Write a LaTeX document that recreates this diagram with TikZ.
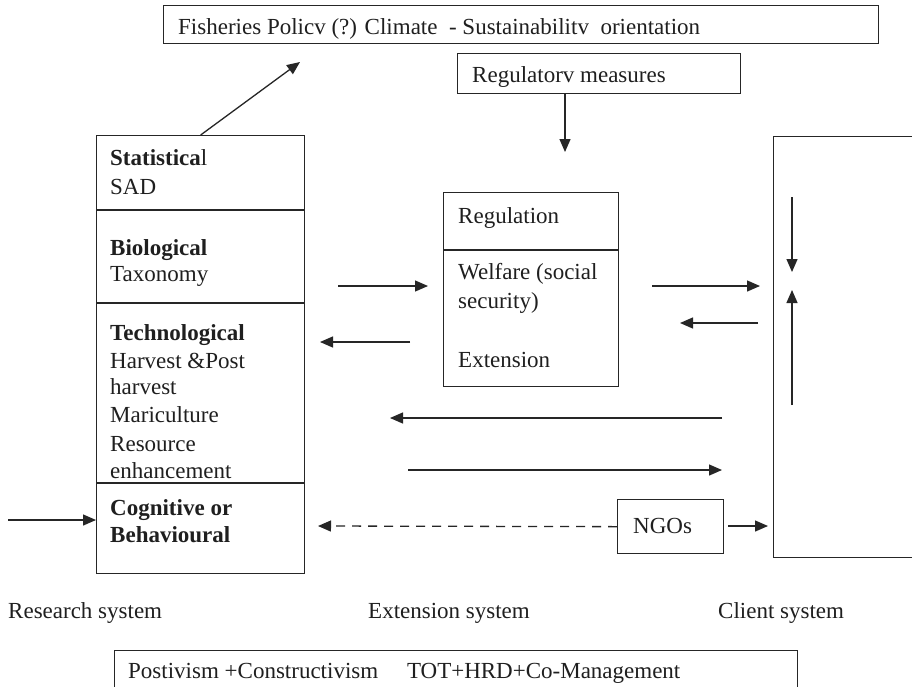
\documentclass[tikz,border=0pt]{standalone}
\usepackage{fontspec}
\setmainfont{Liberation Serif}
\usetikzlibrary{arrows.meta}
\begin{document}
\begin{tikzpicture}[x=1pt,y=-1pt,
  box/.style={draw=black!85,line width=1.3pt,rectangle,inner sep=0pt,anchor=north west},
  rule/.style={draw=black!85,line width=1.3pt},
  txt/.style={anchor=base west,inner sep=0pt,font=\fontsize{23}{28}\selectfont,text=black!88},
  arr/.style={draw=black!85,line width=1.3pt,-{Triangle[length=13pt,width=11pt]}},
  dasharr/.style={arr,dash pattern=on 9pt off 7pt},
]
\useasboundingbox (0,0) rectangle (912,686);
\clip (0,0) rectangle (912,686);
\fill[white] (0,0) rectangle (912,686);

% frames
\node[box,minimum width=715,minimum height=38] (policy) at (163,5) {};
\node[box,minimum width=283,minimum height=40] (reg) at (457,53) {};
\node[box,minimum width=208,minimum height=438] (research) at (96,135) {};
\node[box,minimum width=175,minimum height=194] (ext) at (443,192) {};
\node[box,minimum width=160,minimum height=421] (client) at (773,136) {};
\node[box,minimum width=106,minimum height=54] (ngos) at (617,499) {};
\node[box,minimum width=683,minimum height=50] (basis) at (114,650) {};

% section rules inside the research and extension frames
\draw[rule] (96,210) -- (304,210);
\draw[rule] (96,303) -- (304,303);
\draw[rule] (96,483) -- (304,483);
\draw[rule] (443,250) -- (618,250);

% texts
\node[txt] (tpolicy) at (178,34) {Fisheries Policv (?) Climate\ \ - Sustainabilitv\ \ orientation};
\node[txt] (treg) at (472,82) {Regulatorv measures};

\node[txt] (t1) at (110,165) {\textbf{Statistica}l};
\node[txt] (t2) at (110,194) {SAD};
\node[txt] (t3) at (110,255) {\textbf{Biological}};
\node[txt] (t4) at (110,281) {Taxonomy};
\node[txt] (t5) at (110,340) {\textbf{Technological}};
\node[txt] (t6) at (110,368) {Harvest \&Post};
\node[txt] (t7) at (110,394) {harvest};
\node[txt] (t8) at (110,422) {Mariculture};
\node[txt] (t9) at (110,451) {Resource};
\node[txt] (t10) at (110,478) {enhancement};
\node[txt] (t11) at (110,515) {\textbf{Cognitive or}};
\node[txt] (t12) at (110,542) {\textbf{Behavioural}};

\node[txt] (e1) at (458,223) {Regulation};
\node[txt] (e2) at (458,279) {Welfare (social};
\node[txt] (e3) at (458,308) {security)};
\node[txt] (e4) at (458,367) {Extension};

\node[txt] (tngo) at (633,533) {NGOs};

\node[txt] (lres) at (8,618) {Research system};
\node[txt] (lext) at (368,618) {Extension system};
\node[txt] (lcli) at (718,618) {Client system};

\node[txt] (tbasis) at (128,678) {Postivism +Constructivism\quad\ TOT+HRD+Co-Management};

% free ends of connectors
\coordinate (pol) at (300,62);
\coordinate (regdown) at (565,93);
\coordinate (regend) at (565,152);
\coordinate (a1s) at (338,286); \coordinate (a1e) at (428,286);
\coordinate (a2s) at (410,342); \coordinate (a2e) at (320,342);
\coordinate (a3s) at (652,286); \coordinate (a3e) at (760,286);
\coordinate (a4s) at (758,323); \coordinate (a4e) at (680,323);
\coordinate (a5s) at (722,418); \coordinate (a5e) at (390,418);
\coordinate (a6s) at (408,470); \coordinate (a6e) at (722,470);
\coordinate (dashend) at (318,526);
\coordinate (ngoout) at (728,526); \coordinate (ngoend) at (768,526);
\coordinate (inS) at (8,520);
\coordinate (d1s) at (792,197); \coordinate (d1e) at (792,272);
\coordinate (u1s) at (792,405); \coordinate (u1e) at (792,290);

% connectors
\draw[arr] (research.north) -- (pol);
\draw[arr] (regdown) -- (regend);
\draw[arr] (a1s) -- (a1e);
\draw[arr] (a2s) -- (a2e);
\draw[arr] (a3s) -- (a3e);
\draw[arr] (a4s) -- (a4e);
\draw[arr] (a5s) -- (a5e);
\draw[arr] (a6s) -- (a6e);
\draw[dasharr] (ngos.west) -- (dashend);
\draw[arr] (ngoout) -- (ngoend);
\draw[arr] (inS) -- (inS -| research.west);
\draw[arr] (d1s) -- (d1e);
\draw[arr] (u1s) -- (u1e);
\end{tikzpicture}
\end{document}
